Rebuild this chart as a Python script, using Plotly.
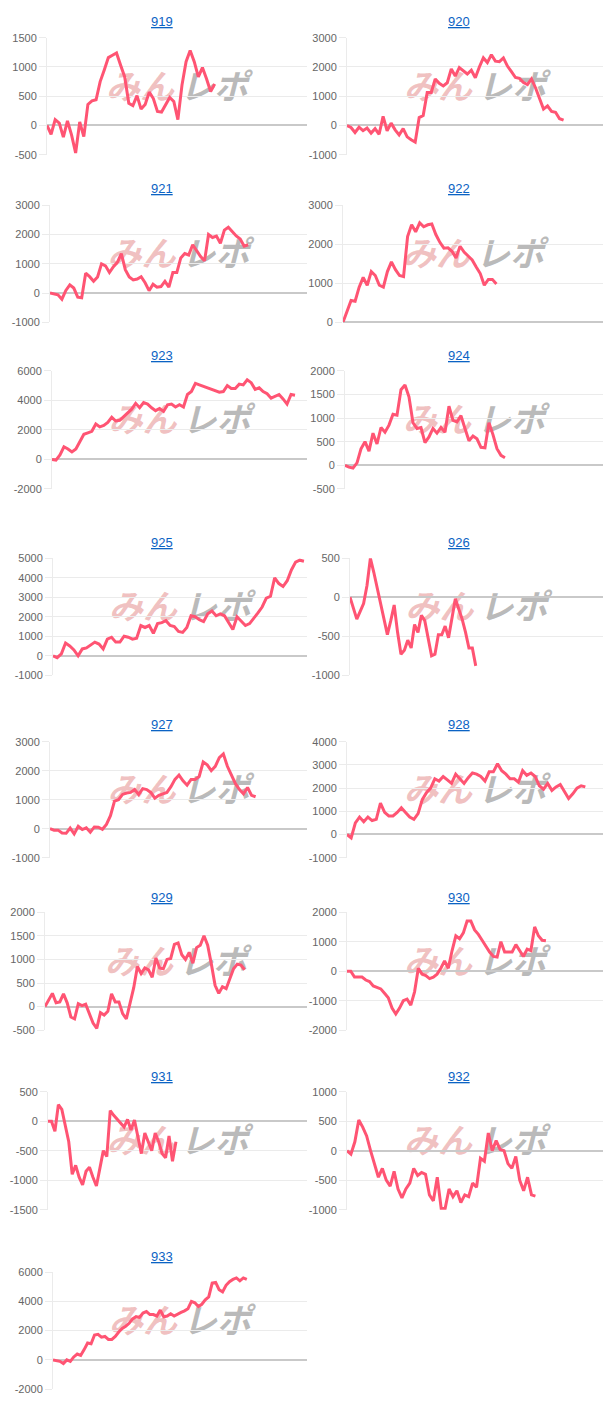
import plotly.graph_objects as go

# ---------------- data ----------------
titles = ["919", "920", "921", "922", "923", "924", "925", "926",
          "927", "928", "929", "930", "931", "932", "933"]

s919 = [0, -150, 100, 40, -200, 80, -160, -470, 60, -190, 360, 420, 440, 750, 950, 1160,
        1200, 1240, 1030, 830, 380, 340, 510, 280, 360, 570, 460, 240, 230, 350, 480, 410,
        100, 690, 1090, 1280, 1090, 830, 990, 800, 580, 710]
s920 = [0, -70, -240, -60, -180, -90, -260, -110, -300, 310, -180, 80, -150, -320, -110,
        -390, -490, -570, 270, 340, 1130, 1130, 1590, 1440, 1350, 1460, 1930, 1690, 1980,
        1860, 1760, 1890, 1630, 2000, 2310, 2150, 2420, 2200, 2180, 2310, 2030, 1840, 1640,
        1610, 1470, 1400, 1590, 1290, 900, 560, 670, 480, 450, 230, 180]
s921 = [0, -40, -60, -210, 90, 280, 170, -140, -160, 680, 560, 400, 550, 1000, 930, 700,
        900, 1050, 1350, 800, 550, 450, 480, 560, 350, 80, 300, 200, 220, 400, 200, 700, 700,
        1200, 1350, 1300, 1650, 1450, 1250, 1100, 2000, 1900, 1950, 1700, 2150, 2250, 2100,
        1950, 1850, 1600, 1650]
s922 = [0, 300, 560, 540, 900, 1150, 950, 1300, 1200, 950, 900, 1300, 1550, 1350, 1200,
        1170, 2200, 2500, 2320, 2550, 2450, 2500, 2520, 2250, 2050, 1900, 1910, 1820, 1650,
        1950, 1800, 1700, 1600, 1420, 1250, 950, 1100, 1100, 980]
s923 = [0, -50, 300, 850, 700, 500, 700, 1200, 1700, 1800, 1900, 2400, 2200, 2300, 2500,
        2850, 2600, 2650, 2900, 3200, 3400, 3800, 3500, 3850, 3750, 3500, 3300, 3450, 3250,
        3700, 3750, 3550, 3700, 3550, 4400, 4600, 5150, 5050, 4950, 4850, 4750, 4650, 4550,
        4600, 5000, 4800, 4800, 5100, 5050, 5400, 5200, 4750, 4850, 4600, 4450, 4150, 4300,
        4400, 4100, 3750, 4400, 4350]
s924 = [0, -40, -60, 50, 350, 500, 300, 680, 450, 800, 700, 850, 1080, 1060, 1600, 1700,
        1450, 900, 780, 800, 480, 600, 780, 680, 800, 700, 1250, 950, 920, 1050, 780, 520,
        620, 560, 380, 370, 900, 650, 350, 210, 160]
s925 = [0, -100, 100, 650, 500, 300, 0, 350, 400, 550, 700, 600, 350, 850, 950, 700, 700,
        1000, 950, 850, 900, 1550, 1450, 1550, 1150, 1650, 1700, 1800, 1550, 1500, 1250, 1200,
        1450, 2050, 2000, 1850, 1750, 2150, 2300, 2050, 2150, 2050, 1700, 1350, 2000, 1800,
        1550, 1650, 1900, 2200, 2500, 2950, 3050, 4000, 3700, 3550, 3850, 4400, 4800, 4900,
        4850]
s926 = [0, -150, -280, -180, -80, 150, 500, 320, 120, -120, -280, -480, -300, -100, -450,
        -730, -680, -550, -650, -350, -450, -230, -300, -550, -750, -730, -480, -480, -370,
        -520, -250, -20, -150, -280, -450, -650, -650, -880]
s927 = [0, -50, -50, -150, -160, 20, -180, 80, -30, 30, -120, 60, 50, -20, 150, 450, 950,
        1000, 1180, 1230, 1250, 1350, 1180, 1380, 1350, 1250, 1050, 1150, 1200, 1250, 1450,
        1700, 1850, 1650, 1500, 1700, 1700, 1800, 2300, 2200, 2000, 2150, 2450, 2580, 2150,
        1850, 1550, 1350, 1200, 1420, 1150, 1100]
s928 = [0, -150, 500, 750, 550, 750, 600, 650, 1350, 950, 800, 800, 950, 1150, 950, 750,
        650, 900, 1500, 1800, 2000, 2400, 2300, 2500, 2350, 2200, 2600, 2400, 2200, 2450,
        2650, 2600, 2500, 2300, 2700, 2700, 3050, 2750, 2600, 2400, 2400, 2250, 2750, 2550,
        2650, 2500, 2100, 1950, 2200, 1900, 2050, 2150, 1850, 1550, 1750, 2000, 2100, 2050]
s929 = [0, 150, 280, 80, 100, 270, 80, -220, -260, 60, 20, 50, -150, -350, -460, -130, -180,
        -100, 270, 100, 100, -150, -260, 100, 400, 850, 700, 820, 780, 620, 1030, 820, 800,
        1000, 1020, 1320, 1350, 1100, 1000, 1150, 920, 1250, 1300, 1500, 1300, 900, 450, 280,
        420, 380, 600, 800, 900, 880, 780]
s930 = [0, 0, -200, -200, -200, -300, -350, -500, -550, -600, -750, -900, -1250, -1450,
        -1250, -1000, -950, -1150, -700, 100, -100, -150, -250, -200, -100, 100, 350, 100, 700,
        1200, 1100, 1300, 1700, 1700, 1400, 1250, 1050, 850, 650, 500, 480, 1000, 650, 650,
        650, 900, 700, 500, 750, 700, 1500, 1200, 1050, 1030]
s931 = [0, 0, -170, 280, 200, -100, -350, -900, -750, -950, -1080, -850, -780, -950, -1100,
        -800, -500, -600, 180, 100, 30, -30, -100, 30, -150, 20, -250, -550, -200, -350, -500,
        -200, -350, -550, -620, -250, -680, -350]
s932 = [0, -60, 150, 520, 400, 250, 0, -250, -450, -300, -500, -600, -350, -650, -800, -650,
        -550, -300, -420, -370, -400, -750, -850, -450, -980, -980, -650, -780, -680, -880,
        -750, -780, -550, -620, -130, -180, 300, 0, 170, 20, 0, -220, -300, -100, -500, -680,
        -450, -750, -770]
s933 = [0, -50, -100, -250, 0, -100, 200, 400, 300, 700, 1150, 1100, 1700, 1750, 1550, 1600,
        1400, 1400, 1600, 1900, 2150, 2300, 2500, 2800, 2950, 2900, 3200, 3300, 3100, 3100,
        3000, 3400, 2950, 3000, 3150, 3000, 3150, 3250, 3350, 3500, 4000, 3900, 3650, 3800,
        4100, 4300, 5250, 5300, 4800, 4650, 5100, 5350, 5500, 5600, 5400, 5600, 5500]

series = [s919, s920, s921, s922, s923, s924, s925, s926,
          s927, s928, s929, s930, s931, s932, s933]

y_min = [-500, -1000, -1000, 0, -2000, -500, -1000, -1000,
         -1000, -1000, -500, -2000, -1500, -1000, -2000]
y_max = [1500, 3000, 3000, 3000, 6000, 2000, 5000, 500,
         3000, 4000, 2000, 2000, 500, 1000, 6000]
y_step = [500, 1000, 1000, 1000, 2000, 500, 1000, 500,
          1000, 1000, 500, 1000, 500, 500, 2000]

# ---------------- layout (pixel geometry) ----------------
W, H = 612, 1408
row_top = [32, 201, 368, 557, 742, 914, 1095, 1277]
row_bot = [150, 319, 487, 675, 859, 1033, 1214, 1395]
title_y = [16, 184, 353, 541, 725, 899, 1080, 1261]
plot_left = [47, 347, 50, 343, 52, 345, 53, 350, 50, 347, 45, 347, 48, 347, 53]
col_right = [307, 603]
title_x = [162, 459]
end_frac = [0.645, 0.846, 0.771, 0.59, 0.953, 0.62, 0.988, 0.497,
            0.80, 0.931, 0.762, 0.777, 0.494, 0.736, 0.763]

LINE = "#ff5473"
GRID = "#ebebeb"
ZERO = "#c9c9c9"
TICKFONT = dict(family="Liberation Sans, Arial, sans-serif", size=11, color="#666666")

fig = go.Figure()
layout = {}
annotations = []
shapes = []

for k in range(len(series)):
    r, c = divmod(k, 2)
    sfx = "" if k == 0 else str(k + 1)
    vals = series[k]
    n = len(vals)
    fig.add_trace(go.Scatter(
        x=list(range(n)), y=vals, mode="lines",
        line=dict(color=LINE, width=3),
        xaxis="x" + sfx, yaxis="y" + sfx,
        hoverinfo="skip", showlegend=False,
    ))
    tv = list(range(y_min[k], y_max[k] + 1, y_step[k]))
    layout["xaxis" + sfx] = dict(
        domain=[plot_left[k] / W, col_right[c] / W],
        range=[0, (n - 1) / end_frac[k]],
        anchor="y" + sfx, showgrid=False, zeroline=False,
        showticklabels=False, showline=False, ticks="", fixedrange=True,
    )
    layout["yaxis" + sfx] = dict(
        domain=[1 - row_bot[r] / H, 1 - row_top[r] / H],
        range=[y_min[k], y_max[k]],
        tickvals=tv, ticktext=[str(v) for v in tv],
        anchor="x" + sfx, showgrid=True, gridcolor=GRID, gridwidth=1,
        zeroline=True, zerolinecolor=ZERO, zerolinewidth=1.5,
        showline=True, linecolor=GRID, linewidth=1,
        ticks="outside", ticklen=7, tickcolor=GRID, tickwidth=1,
        tickfont=TICKFONT, fixedrange=True,
    )
    annotations.append(dict(
        text="<u>" + titles[k] + "</u>", x=title_x[c] / W, y=1 - title_y[r] / H,
        xref="paper", yref="paper", showarrow=False, xanchor="center", yanchor="middle",
        font=dict(family="Liberation Sans, Arial, sans-serif", size=13, color="#0b63c4"),
    ))
    # watermark logo (text), drawn beneath the line
    for txt, x0, x1, pos, col in (
            ("みん", 0.12, 0.50, "middle right", "rgba(228,140,140,0.55)"),
            ("レポ", 0.50, 0.88, "middle left", "rgba(140,140,140,0.60)")):
        shapes.append(dict(
            type="rect", xref="x" + sfx + " domain", yref="y" + sfx + " domain",
            x0=x0, x1=x1, y0=0.42, y1=0.70, layer="below",
            line=dict(width=0), fillcolor="rgba(0,0,0,0)",
            label=dict(text="<b><i>" + txt + "</i></b>", textposition=pos, padding=0,
                       font=dict(family="Noto Sans CJK JP", size=34, color=col)),
        ))

fig.update_layout(
    width=W, height=H,
    margin=dict(l=0, r=0, t=0, b=0),
    paper_bgcolor="white", plot_bgcolor="white",
    annotations=annotations, shapes=shapes,
    showlegend=False,
    **layout,
)

fig.write_html("out.html", config={"displayModeBar": False},
               post_script="document.body.style.margin='0';"
                           "document.body.style.overflow='hidden';")
